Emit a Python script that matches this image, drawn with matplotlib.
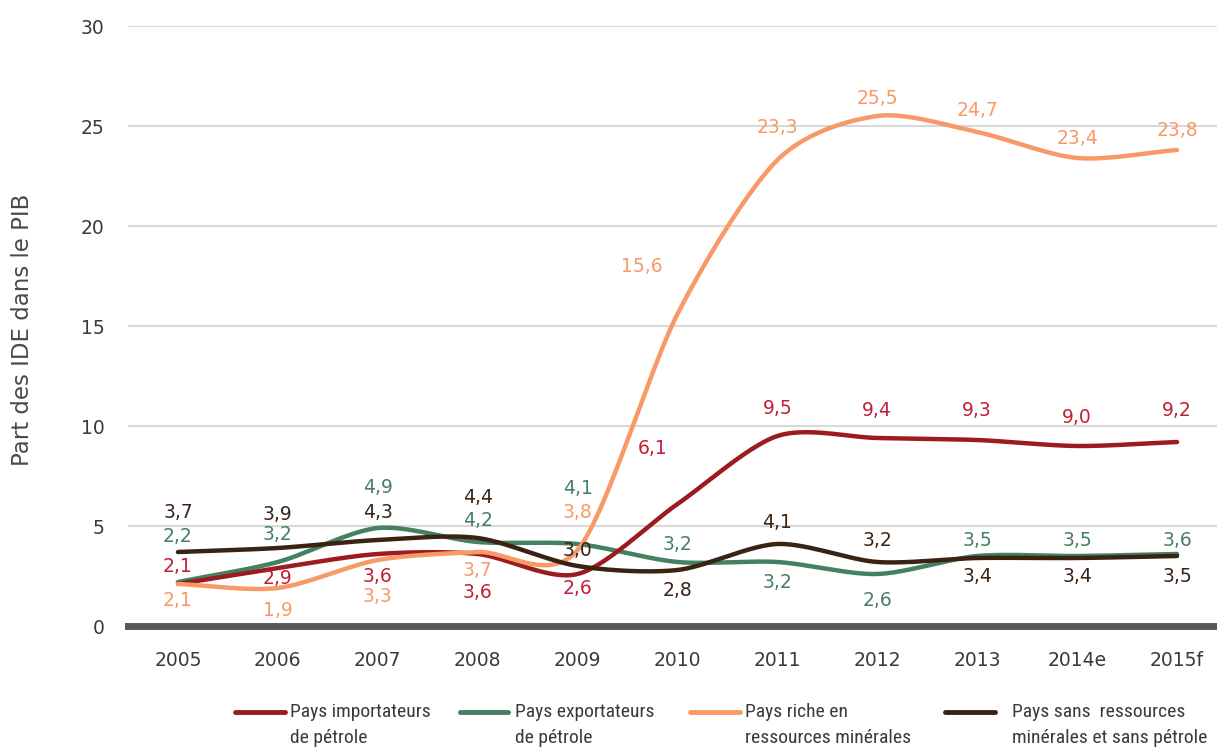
import numpy as np
import matplotlib
matplotlib.use("Agg")
import matplotlib.pyplot as plt
from matplotlib.lines import Line2D
from matplotlib import font_manager

years = ["2005", "2006", "2007", "2008", "2009", "2010", "2011", "2012", "2013", "2014e", "2015f"]
importateurs = [2.1, 2.9, 3.6, 3.6, 2.6, 6.1, 9.5, 9.4, 9.3, 9.0, 9.2]
exportateurs = [2.2, 3.2, 4.9, 4.2, 4.1, 3.2, 3.2, 2.6, 3.5, 3.5, 3.6]
minerales = [2.1, 1.9, 3.3, 3.7, 3.8, 15.6, 23.3, 25.5, 24.7, 23.4, 23.8]
sans_ressources = [3.7, 3.9, 4.3, 4.4, 3.0, 2.8, 4.1, 3.2, 3.4, 3.4, 3.5]
legend_labels = ["Pays importateurs\nde pétrole", "Pays exportateurs\nde pétrole",
                 "Pays riche en\nressources minérales", "Pays sans  ressources\nminérales et sans pétrole"]
y_label = "Part des IDE dans le PIB"

# label offsets in pixels (dx, dy)
off_imp = [(0, 17), (0, -10), (0, -23), (0, -39), (0, -14), (-25, 56), (0, 28), (0, 28), (0, 30), (0, 29), (0, 32)]
off_exp = [(0, 45), (0, 27), (0, 41), (0, 22), (0, 56), (0, 18), (0, -20), (0, -26), (0, 16), (0, 16), (0, 14)]
off_min = [(0, -16), (0, -22), (0, -37), (0, -18), (0, 38), (-36, 48), (0, 33), (0, 18), (0, 22), (0, 20), (0, 20)]
off_sans = [(0, 40), (0, 33), (0, 28), (0, 41), (0, 15), (0, -20), (0, 21), (0, 22), (0, -19), (0, -19), (0, -21)]

line_colors = ["#9b1b1f", "#448062", "#f79a68", "#3b2314"]
text_colors = ["#c21f36", "#448062", "#f79a68", "#3b2314"]

fonts = [(f.name, f.weight) for f in font_manager.fontManager.ttflist]
leg_kw = dict(color="#3a3a3a")
chosen = None
for cand in ["Roboto Condensed", "Liberation Sans Narrow", "DejaVu Sans Condensed"]:
    if any(n == cand and (w in (300, 400, "normal", "regular", "light")) for n, w in fonts):
        chosen = cand
        break
if chosen:
    leg_kw.update(family=chosen, fontsize=14)
else:
    leg_kw.update(family="Roboto", fontsize=12, fontweight="light")


def smooth(x, y, n=30):
    x = np.asarray(x, float)
    y = np.asarray(y, float)
    px = np.concatenate([[2 * x[0] - x[1]], x, [2 * x[-1] - x[-2]]])
    py = np.concatenate([[2 * y[0] - y[1]], y, [2 * y[-1] - y[-2]]])
    xs, ys = [], []
    t = np.linspace(0, 1, n)
    for i in range(1, len(px) - 2):
        p0, p1, p2, p3 = [np.array([px[j], py[j]]) for j in range(i - 1, i + 3)]
        m1 = (p2 - p0) / 2 * 0.85
        m2 = (p3 - p1) / 2 * 0.85
        h00 = 2 * t**3 - 3 * t**2 + 1
        h10 = t**3 - 2 * t**2 + t
        h01 = -2 * t**3 + 3 * t**2
        h11 = t**3 - t**2
        pts = np.outer(h00, p1) + np.outer(h10, m1) + np.outer(h01, p2) + np.outer(h11, m2)
        xs.append(pts[:, 0])
        ys.append(pts[:, 1])
    return np.concatenate(xs), np.concatenate(ys)


W, H = 1217, 749
fig = plt.figure(figsize=(W / 100, H / 100), dpi=100)
ax = fig.add_axes([128 / W, 1 - 626 / H, (W - 128) / W, 600 / H])

x = np.arange(len(years))
ax.set_xlim(-0.5, 10.4)
ax.set_ylim(0, 30)
ax.set_yticks([0, 5, 10, 15, 20, 25, 30])
ax.set_yticklabels(["0", "5", "10", "15", "20", "25", "30"])
ax.set_xticks(x)
ax.set_xticklabels(years)
for s in ax.spines.values():
    s.set_visible(False)
ax.tick_params(length=0, labelsize=13.5, colors="#3a3a3a")
ax.tick_params(axis="y", pad=17)
ax.tick_params(axis="x", pad=18)
for v in [5, 10, 15, 20, 25, 30]:
    ax.axhline(v, color="#d9d9d9", lw=1.5, zorder=0)
ax.axhline(0, color="#58595b", lw=5, zorder=1, clip_on=False)

fig.text(23 / W, 1 - 330 / H, y_label, rotation=90, ha="center", va="center",
         fontsize=16.5, color="#4a4a4a")

series = [importateurs, exportateurs, minerales, sans_ressources]
offsets = [off_imp, off_exp, off_min, off_sans]
zorders = [3, 2, 4, 5]
for vals, offs, lc, tc, zo in zip(series, offsets, line_colors, text_colors, zorders):
    sx, sy = smooth(x, vals)
    ax.plot(sx, sy, color=lc, lw=3.2, zorder=zo, solid_capstyle="round")
    for xi, v, (dx, dy) in zip(x, vals, offs):
        ax.annotate(f"{v:.1f}".replace(".", ","), (xi, v), xytext=(dx, dy),
                    textcoords="offset pixels", ha="center", va="center",
                    fontsize=13.5, color=tc, zorder=6)

# legend
handles_px = [(235, 285, 290), (460, 508, 515), (690, 740, 745), (945, 995, 1012)]
for (x0, x1, tx), lc, lab in zip(handles_px, line_colors, legend_labels):
    fig.add_artist(Line2D([x0 / W, x1 / W], [1 - 712 / H, 1 - 712 / H], color=lc, lw=3.5,
                          solid_capstyle="round"))
    l1, l2 = lab.split("\n")
    fig.text(tx / W, 1 - 712 / H, l1, ha="left", va="center", **leg_kw)
    fig.text(tx / W, 1 - 738 / H, l2, ha="left", va="center", **leg_kw)

fig.savefig("out.png", dpi=100)
